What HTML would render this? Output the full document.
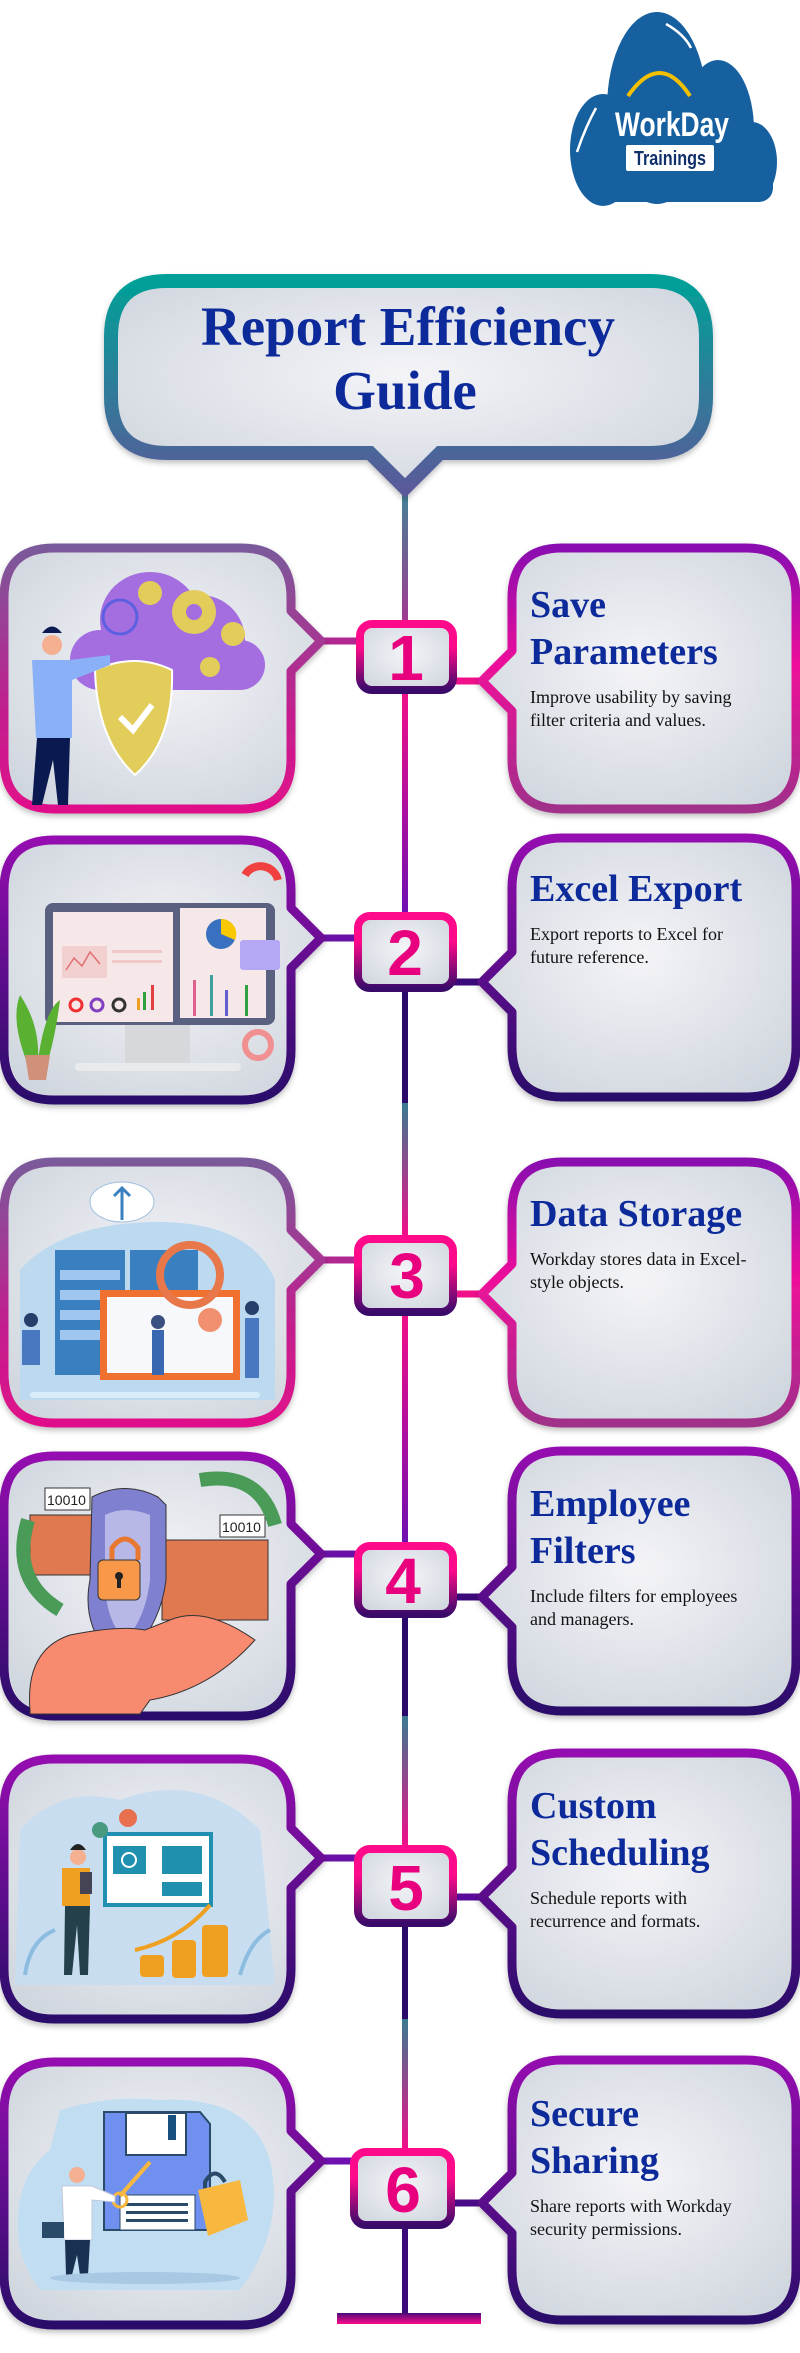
<!DOCTYPE html>
<html><head><meta charset="utf-8"><style>
html,body{margin:0;padding:0;background:#fff;}
svg{display:block;}
.h{font-family:"Liberation Serif",serif;font-weight:bold;font-size:38px;fill:#0d2a9a;}
.b{font-family:"Liberation Serif",serif;font-size:18px;fill:#111;}
.n{font-family:"Liberation Sans",sans-serif;font-weight:bold;font-size:64px;fill:#e8007e;text-anchor:middle;}
</style></head><body>
<svg width="800" height="2353" viewBox="0 0 800 2353" xmlns="http://www.w3.org/2000/svg">
<defs>
<radialGradient id="fill" cx="0.5" cy="0.45" r="0.65"><stop offset="0" stop-color="#f4f4f8"/><stop offset="1" stop-color="#d0d6de"/></radialGradient>
<linearGradient id="gA" x1="0" y1="0" x2="0" y2="1"><stop offset="0" stop-color="#7a5a9a"/><stop offset="0.6" stop-color="#c0208e"/><stop offset="1" stop-color="#e0108a"/></linearGradient>
<linearGradient id="gAR" x1="0" y1="0" x2="0" y2="1"><stop offset="0" stop-color="#8a10b0"/><stop offset="0.45" stop-color="#ee109a"/><stop offset="1" stop-color="#a0308a"/></linearGradient>
<linearGradient id="gB" x1="0" y1="0" x2="0" y2="1"><stop offset="0" stop-color="#9510b0"/><stop offset="1" stop-color="#2a0a6a"/></linearGradient>
<linearGradient id="gBox" x1="0" y1="0" x2="0" y2="1"><stop offset="0" stop-color="#ff0a8a"/><stop offset="0.35" stop-color="#ff0a8a"/><stop offset="1" stop-color="#3a0a6a"/></linearGradient>
<linearGradient id="gT" x1="0" y1="0" x2="0" y2="1"><stop offset="0" stop-color="#00a098"/><stop offset="1" stop-color="#5a5a9a"/></linearGradient>
<linearGradient id="v1" x1="0" y1="0" x2="0" y2="1"><stop offset="0" stop-color="#3a8a96"/><stop offset="1" stop-color="#a03a90"/></linearGradient>
<linearGradient id="v2" x1="0" y1="0" x2="0" y2="1"><stop offset="0" stop-color="#f0108a"/><stop offset="1" stop-color="#7010b0"/></linearGradient>
<linearGradient id="v3" x1="0" y1="0" x2="0" y2="1"><stop offset="0" stop-color="#3a7a90"/><stop offset="1" stop-color="#f0108a"/></linearGradient>
<linearGradient id="bar" x1="0" y1="0" x2="0" y2="1"><stop offset="0" stop-color="#4a0a7a"/><stop offset="1" stop-color="#ff0a8a"/></linearGradient>
<filter id="sh" x="-10%" y="-10%" width="120%" height="130%"><feDropShadow dx="0" dy="3" stdDeviation="3" flood-color="#000" flood-opacity="0.25"/></filter>
</defs>

<!-- Logo -->
<g fill="#1660a0">
<ellipse cx="657" cy="108" rx="50" ry="96"/>
<ellipse cx="718" cy="130" rx="36" ry="70"/>
<ellipse cx="603" cy="150" rx="33" ry="56"/>
<ellipse cx="752" cy="162" rx="25" ry="40"/>
<rect x="585" y="140" width="188" height="62" rx="14"/>
</g>
<path d="M628,96 Q660,50 690,96" stroke="#f2c000" stroke-width="4" fill="none"/>
<path d="M666,24 Q684,34 691,48" stroke="#fff" stroke-width="2.5" fill="none"/>
<path d="M596,108 Q585,128 577,152" stroke="#fff" stroke-width="2.5" fill="none"/>
<text x="672" y="136" font-family="Liberation Sans, sans-serif" font-weight="bold" font-size="34" fill="#fff" text-anchor="middle" textLength="114" lengthAdjust="spacingAndGlyphs">WorkDay</text>
<rect x="626" y="145" width="88" height="26" rx="2" fill="#fff"/>
<text x="670" y="165" font-family="Liberation Sans, sans-serif" font-weight="bold" font-size="20" fill="#10306a" text-anchor="middle" textLength="72" lengthAdjust="spacingAndGlyphs">Trainings</text>

<!-- Vertical line -->
<rect x="402" y="480" width="6" height="140" fill="url(#v1)"/>
<rect x="402" y="694" width="6" height="218" fill="url(#v2)"/>
<rect x="402" y="992" width="6" height="111" fill="#2a0a6a"/>
<rect x="402" y="1103" width="6" height="132" fill="url(#v3)"/>
<rect x="402" y="1316" width="6" height="226" fill="url(#v2)"/>
<rect x="402" y="1618" width="6" height="98" fill="#2a0a6a"/>
<rect x="402" y="1716" width="6" height="129" fill="url(#v3)"/>
<rect x="402" y="1927" width="6" height="92" fill="#2a0a6a"/>
<rect x="402" y="2019" width="6" height="129" fill="url(#v3)"/>
<rect x="402" y="2229" width="6" height="86" fill="#3a0a7a"/>
<rect x="337" y="2313" width="144" height="11" fill="url(#bar)"/>

<!-- Title -->
<path d="M167,281 H650 Q706,281 706,337 V397 Q706,453 650,453 H440 L405,488 L370,453 H167 Q111,453 111,397 V337 Q111,281 167,281 Z" fill="url(#fill)" stroke="url(#gT)" stroke-width="14" filter="url(#sh)"/>
<text x="408" y="345" font-family="Liberation Serif, serif" font-weight="bold" font-size="55" fill="#0d2a9a" text-anchor="middle">Report Efficiency</text>
<text x="405" y="409" font-family="Liberation Serif, serif" font-weight="bold" font-size="55" fill="#0d2a9a" text-anchor="middle">Guide</text>

<!-- Connectors -->
<g stroke-width="7">
<line x1="318" y1="641" x2="360" y2="641" stroke="#b02890"/>
<line x1="454" y1="681" x2="486" y2="681" stroke="#f0108a"/>
<line x1="318" y1="938" x2="358" y2="938" stroke="#6a10a8"/>
<line x1="454" y1="982" x2="486" y2="982" stroke="#3a0a7a"/>
<line x1="318" y1="1260" x2="358" y2="1260" stroke="#b02890"/>
<line x1="454" y1="1294" x2="486" y2="1294" stroke="#f0108a"/>
<line x1="318" y1="1554" x2="358" y2="1554" stroke="#6a10a8"/>
<line x1="454" y1="1597" x2="486" y2="1597" stroke="#3a0a7a"/>
<line x1="318" y1="1858" x2="358" y2="1858" stroke="#6a10a8"/>
<line x1="454" y1="1897" x2="486" y2="1897" stroke="#5a0a9a"/>
<line x1="318" y1="2161" x2="354" y2="2161" stroke="#7010b0"/>
<line x1="452" y1="2203" x2="486" y2="2203" stroke="#4a0a8a"/>
</g>

<!-- Cards -->
<g stroke-width="9" fill="url(#fill)" filter="url(#sh)" stroke-linejoin="round">
<path stroke="url(#gA)" d="M54,548 H241 Q291,548 291,598 V611 L321,641 L291,671 V759 Q291,809 241,809 H54 Q4,809 4,759 V598 Q4,548 54,548 Z"/>
<path stroke="url(#gAR)" d="M562,548 H746 Q796,548 796,598 V759 Q796,809 746,809 H562 Q512,809 512,759 V711 L482,681 L512,651 V598 Q512,548 562,548 Z"/>
<path stroke="url(#gB)" d="M54,840 H241 Q291,840 291,890 V908 L321,938 L291,968 V1050 Q291,1100 241,1100 H54 Q4,1100 4,1050 V890 Q4,840 54,840 Z"/>
<path stroke="url(#gB)" d="M562,838 H746 Q796,838 796,888 V1047 Q796,1097 746,1097 H562 Q512,1097 512,1047 V1012 L482,982 L512,952 V888 Q512,838 562,838 Z"/>
<path stroke="url(#gA)" d="M54,1162 H241 Q291,1162 291,1212 V1230 L321,1260 L291,1290 V1373 Q291,1423 241,1423 H54 Q4,1423 4,1373 V1212 Q4,1162 54,1162 Z"/>
<path stroke="url(#gAR)" d="M562,1162 H746 Q796,1162 796,1212 V1373 Q796,1423 746,1423 H562 Q512,1423 512,1373 V1324 L482,1294 L512,1264 V1212 Q512,1162 562,1162 Z"/>
<path stroke="url(#gB)" d="M54,1456 H241 Q291,1456 291,1506 V1524 L321,1554 L291,1584 V1666 Q291,1716 241,1716 H54 Q4,1716 4,1666 V1506 Q4,1456 54,1456 Z"/>
<path stroke="url(#gB)" d="M562,1451 H746 Q796,1451 796,1501 V1661 Q796,1711 746,1711 H562 Q512,1711 512,1661 V1627 L482,1597 L512,1567 V1501 Q512,1451 562,1451 Z"/>
<path stroke="url(#gB)" d="M54,1759 H241 Q291,1759 291,1809 V1828 L321,1858 L291,1888 V1969 Q291,2019 241,2019 H54 Q4,2019 4,1969 V1809 Q4,1759 54,1759 Z"/>
<path stroke="url(#gB)" d="M562,1753 H746 Q796,1753 796,1803 V1964 Q796,2014 746,2014 H562 Q512,2014 512,1964 V1927 L482,1897 L512,1867 V1803 Q512,1753 562,1753 Z"/>
<path stroke="url(#gB)" d="M54,2062 H241 Q291,2062 291,2112 V2131 L321,2161 L291,2191 V2275 Q291,2325 241,2325 H54 Q4,2325 4,2275 V2112 Q4,2062 54,2062 Z"/>
<path stroke="url(#gB)" d="M562,2060 H746 Q796,2060 796,2110 V2270 Q796,2320 746,2320 H562 Q512,2320 512,2270 V2233 L482,2203 L512,2173 V2110 Q512,2060 562,2060 Z"/>
</g>

<!-- Number boxes -->
<g stroke="url(#gBox)" stroke-width="8" fill="url(#fill)">
<rect x="360" y="624" width="93" height="66" rx="12"/>
<rect x="358" y="916" width="95" height="72" rx="12"/>
<rect x="358" y="1239" width="95" height="73" rx="12"/>
<rect x="358" y="1546" width="95" height="68" rx="12"/>
<rect x="358" y="1849" width="95" height="74" rx="12"/>
<rect x="354" y="2152" width="97" height="73" rx="12"/>
</g>
<text class="n" x="406" y="680">1</text>
<text class="n" x="405" y="975">2</text>
<text class="n" x="407" y="1298">3</text>
<text class="n" x="403" y="1603">4</text>
<text class="n" x="406" y="1910">5</text>
<text class="n" x="403" y="2212">6</text>

<!-- Right texts -->
<text class="h" x="530" y="617">Save</text>
<text class="h" x="530" y="664">Parameters</text>
<text class="b" x="530" y="703">Improve usability by saving</text>
<text class="b" x="530" y="726">filter criteria and values.</text>

<text class="h" x="530" y="901">Excel Export</text>
<text class="b" x="530" y="940">Export reports to Excel for</text>
<text class="b" x="530" y="963">future reference.</text>

<text class="h" x="530" y="1226">Data Storage</text>
<text class="b" x="530" y="1265">Workday stores data in Excel-</text>
<text class="b" x="530" y="1288">style objects.</text>

<text class="h" x="530" y="1516">Employee</text>
<text class="h" x="530" y="1563">Filters</text>
<text class="b" x="530" y="1602">Include filters for employees</text>
<text class="b" x="530" y="1625">and managers.</text>

<text class="h" x="530" y="1818">Custom</text>
<text class="h" x="530" y="1865">Scheduling</text>
<text class="b" x="530" y="1904">Schedule reports with</text>
<text class="b" x="530" y="1927">recurrence and formats.</text>

<text class="h" x="530" y="2126">Secure</text>
<text class="h" x="530" y="2173">Sharing</text>
<text class="b" x="530" y="2212">Share reports with Workday</text>
<text class="b" x="530" y="2235">security permissions.</text>

<!-- Illustration 1 -->
<g>
<ellipse cx="150" cy="620" rx="50" ry="48" fill="#a56ee0"/>
<ellipse cx="200" cy="640" rx="45" ry="45" fill="#a56ee0"/>
<ellipse cx="100" cy="660" rx="30" ry="30" fill="#a56ee0"/>
<rect x="75" y="640" width="190" height="50" rx="25" fill="#a56ee0"/>
<circle cx="194" cy="612" r="22" fill="#e2cc5a"/><circle cx="194" cy="612" r="8" fill="#a56ee0"/>
<circle cx="150" cy="593" r="12" fill="#e2cc5a"/>
<circle cx="233" cy="634" r="12" fill="#e2cc5a"/>
<circle cx="210" cy="667" r="10" fill="#e2cc5a"/>
<circle cx="120" cy="617" r="17" fill="none" stroke="#5a60e0" stroke-width="3"/>
<path d="M95,670 Q135,652 172,670 Q174,740 135,775 Q97,740 95,670 Z" fill="#e2cc5a" stroke="#fff" stroke-width="2"/>
<path d="M120,717 L133,730 L152,705" stroke="#fff" stroke-width="6" fill="none"/>
<circle cx="52" cy="645" r="10" fill="#f4b090"/>
<path d="M42,633 Q52,620 62,633 Z" fill="#0a1a50"/>
<path d="M32,660 H70 L110,655 V665 L72,680 V738 H36 Z" fill="#8ab0f8"/>
<path d="M37,738 H70 L68,805 H58 L53,760 L42,805 H32 Z" fill="#0a1a50"/>
</g>

<!-- Illustration 2 -->
<g>
<rect x="45" y="903" width="230" height="122" rx="8" fill="#5a6080"/>
<rect x="53" y="912" width="120" height="110" fill="#f6e8e8"/>
<rect x="180" y="908" width="86" height="110" fill="#f6e8e8"/>
<rect x="62" y="946" width="45" height="32" fill="#f2d0d0"/>
<polyline points="66,970 74,958 82,966 90,952 100,964" stroke="#e07070" fill="none" stroke-width="1.5"/>
<rect x="112" y="950" width="50" height="3" fill="#f0c8c8"/><rect x="112" y="960" width="50" height="3" fill="#f0c8c8"/>
<circle cx="76" cy="1005" r="6" fill="none" stroke="#f03030" stroke-width="3"/>
<circle cx="97" cy="1005" r="6" fill="none" stroke="#8040c0" stroke-width="3"/>
<circle cx="119" cy="1005" r="6" fill="none" stroke="#333" stroke-width="3"/>
<rect x="137" y="998" width="3" height="12" fill="#f0a020"/><rect x="143" y="992" width="3" height="18" fill="#30a040"/><rect x="151" y="985" width="3" height="25" fill="#e04040"/>
<circle cx="221" cy="934" r="15" fill="#3a70c0"/><path d="M221,934 V919 A15,15 0 0 1 235,940 Z" fill="#f8c800"/>
<rect x="240" y="940" width="40" height="30" rx="3" fill="#b4a8f4"/>
<rect x="193" y="980" width="3" height="36" fill="#e06090"/><rect x="210" y="975" width="3" height="41" fill="#40a0a0"/><rect x="225" y="990" width="3" height="26" fill="#6060d0"/><rect x="245" y="985" width="3" height="31" fill="#30a040"/>
<rect x="125" y="1025" width="65" height="40" fill="#d6d8dc"/>
<rect x="75" y="1063" width="166" height="8" rx="4" fill="#e8eaec"/>
<path d="M28,1065 Q10,1020 20,995 Q40,1025 38,1060 Q45,1010 60,1000 Q55,1040 45,1070 Z" fill="#5ab030"/>
<path d="M25,1055 H50 L46,1080 H29 Z" fill="#d0907a"/>
<path d="M245,875 A18,18 0 0 1 278,880" stroke="#f04040" stroke-width="8" fill="none"/>
<circle cx="258" cy="1045" r="13" fill="none" stroke="#f09090" stroke-width="6"/>
</g>

<!-- Illustration 3 -->
<g>
<path d="M20,1270 Q60,1225 150,1222 Q250,1220 275,1280 L275,1400 H20 Z" fill="#bcd9f0"/>
<ellipse cx="122" cy="1202" rx="32" ry="20" fill="#fff" stroke="#a0c0e0"/>
<path d="M122,1188 V1220 M114,1196 L122,1188 L130,1196" stroke="#3a80c0" stroke-width="3" fill="none"/>
<rect x="55" y="1250" width="70" height="125" fill="#3a80c0"/>
<rect x="60" y="1270" width="60" height="10" fill="#9ec6ee"/><rect x="60" y="1290" width="60" height="10" fill="#9ec6ee"/><rect x="60" y="1310" width="60" height="10" fill="#9ec6ee"/><rect x="60" y="1330" width="60" height="10" fill="#9ec6ee"/>
<rect x="130" y="1250" width="68" height="40" fill="#3a80c0"/>
<rect x="100" y="1290" width="140" height="90" fill="#f07030"/>
<rect x="107" y="1297" width="126" height="76" fill="#f6f8fc"/>
<circle cx="190" cy="1275" r="30" fill="none" stroke="#e8784a" stroke-width="8"/>
<circle cx="210" cy="1320" r="12" fill="#f09070"/>
<rect x="152" y="1330" width="12" height="45" fill="#3a68b0"/><circle cx="158" cy="1322" r="7" fill="#3a5080"/>
<rect x="245" y="1318" width="14" height="60" fill="#4a78c0"/><circle cx="252" cy="1308" r="7" fill="#24406a"/>
<rect x="22" y="1330" width="18" height="35" fill="#4a78c0"/><circle cx="31" cy="1320" r="7" fill="#24406a"/>
<rect x="30" y="1392" width="230" height="6" rx="3" fill="#d8ecfa"/>
</g>

<!-- Illustration 4 -->
<g>
<rect x="30" y="1515" width="62" height="60" fill="#e07850" stroke="#333" stroke-width="1"/>
<rect x="45" y="1488" width="45" height="22" fill="#fff" stroke="#333"/><text x="47" y="1505" font-family="Liberation Sans, sans-serif" font-size="14" fill="#222">10010</text>
<rect x="162" y="1540" width="106" height="80" fill="#e07850" stroke="#333"/>
<rect x="220" y="1515" width="45" height="22" fill="#fff" stroke="#333"/><text x="222" y="1532" font-family="Liberation Sans, sans-serif" font-size="14" fill="#222">10010</text>
<path d="M28,1520 Q10,1580 60,1610" stroke="#4a9a58" stroke-width="14" fill="none"/>
<path d="M200,1480 Q260,1470 275,1525" stroke="#4a9a58" stroke-width="14" fill="none"/>
<path d="M92,1497 Q125,1480 158,1497 L166,1505 V1580 Q160,1630 120,1665 Q80,1630 90,1580 Z" fill="#8080d0" stroke="#333"/>
<path d="M105,1515 Q125,1505 150,1515 V1580 Q145,1620 125,1640 Q105,1620 105,1580 Z" fill="#b8b8e8"/>
<path d="M112,1560 V1548 Q125,1530 138,1548 V1560" stroke="#e87830" stroke-width="5" fill="none"/>
<rect x="98" y="1560" width="42" height="40" rx="5" fill="#f89848" stroke="#333"/>
<circle cx="119" cy="1576" r="4" fill="#222"/><rect x="117" y="1576" width="4" height="12" fill="#222"/>
<path d="M30,1710 Q25,1650 70,1635 Q120,1625 145,1630 L170,1620 Q205,1605 255,1640 Q210,1690 150,1700 L140,1714 H30 Z" fill="#f88a70" stroke="#333"/>
</g>

<!-- Illustration 5 -->
<g>
<path d="M20,1830 Q60,1785 120,1800 Q200,1770 260,1830 L275,1985 H15 Z" fill="#c8ddef"/>
<rect x="103" y="1832" width="110" height="75" fill="#2090b0"/>
<rect x="107" y="1836" width="102" height="67" fill="#fff"/>
<rect x="113" y="1846" width="33" height="28" fill="#2090b0"/><circle cx="129" cy="1860" r="7" fill="none" stroke="#fff" stroke-width="2"/>
<rect x="162" y="1846" width="40" height="28" fill="#2090b0"/>
<rect x="162" y="1882" width="40" height="14" fill="#2090b0"/>
<circle cx="128" cy="1818" r="9" fill="#e87050"/><circle cx="100" cy="1830" r="8" fill="#4a9a80"/>
<circle cx="78" cy="1857" r="8" fill="#f4b090"/><path d="M70,1850 Q78,1838 86,1850 Z" fill="#222"/>
<rect x="62" y="1868" width="28" height="38" fill="#f0a020"/>
<rect x="80" y="1872" width="12" height="22" fill="#445"/>
<path d="M65,1906 H90 L88,1975 H80 L77,1925 L72,1975 H64 Z" fill="#24404a"/>
<path d="M135,1950 Q180,1940 210,1905" stroke="#f0a020" stroke-width="4" fill="none"/>
<rect x="140" y="1955" width="24" height="22" rx="4" fill="#f0a020"/>
<rect x="172" y="1940" width="24" height="38" rx="4" fill="#f0a020"/>
<rect x="202" y="1925" width="26" height="52" rx="4" fill="#f0a020"/>
<path d="M25,1975 Q30,1940 55,1930 M240,1975 Q250,1940 270,1930" stroke="#8cbde0" stroke-width="4" fill="none"/>
</g>

<!-- Illustration 6 -->
<g>
<path d="M60,2110 Q110,2095 160,2100 Q250,2095 270,2160 Q285,2230 240,2290 H40 Q10,2250 20,2200 Q25,2170 50,2150 Z" fill="#c0ddf2"/>
<path d="M104,2112 H200 L210,2124 V2230 H104 Z" fill="#7090f0" stroke="#2a4a6a" stroke-width="2"/>
<rect x="126" y="2113" width="60" height="42" fill="#fff" stroke="#2a4a6a" stroke-width="2"/>
<rect x="168" y="2115" width="8" height="25" fill="#1a5080"/>
<rect x="120" y="2195" width="75" height="35" fill="#fff" stroke="#2a4a6a"/>
<rect x="126" y="2203" width="62" height="3" fill="#2a4a6a"/><rect x="126" y="2211" width="62" height="3" fill="#2a4a6a"/><rect x="126" y="2219" width="62" height="3" fill="#2a4a6a"/>
<path d="M205,2192 V2182 Q215,2165 225,2182" stroke="#2a4a6a" stroke-width="4" fill="none"/>
<path d="M198,2190 L240,2180 L248,2220 L208,2236 Z" fill="#f8b840"/>
<path d="M120,2196 L150,2162" stroke="#f8b840" stroke-width="4"/>
<circle cx="120" cy="2200" r="7" fill="none" stroke="#f8b840" stroke-width="3"/>
<circle cx="77" cy="2175" r="8" fill="#f4b090"/>
<path d="M62,2186 H92 L115,2196 V2202 L92,2200 V2240 H64 Z" fill="#fff" stroke="#c0c8d8"/>
<path d="M65,2240 H90 L88,2275 H80 L77,2255 L72,2275 H66 Z" fill="#1a3050"/>
<rect x="42" y="2222" width="22" height="16" fill="#2a4a6a"/>
<ellipse cx="145" cy="2278" rx="95" ry="6" fill="#a8c8e4"/>
</g>
</svg>
</body></html>
